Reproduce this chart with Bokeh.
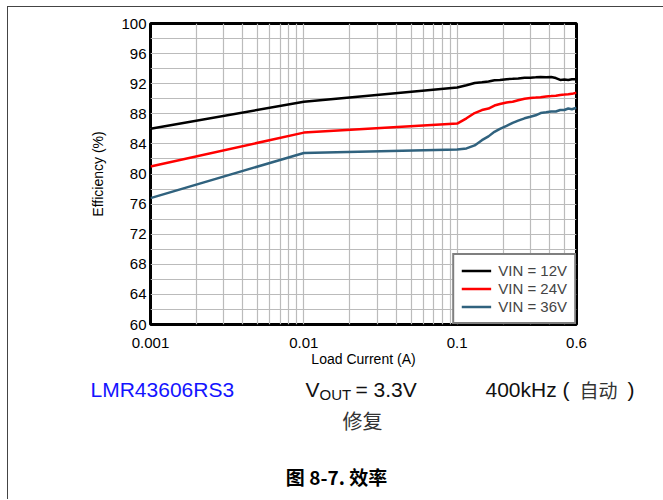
from bokeh.plotting import figure
from bokeh.layouts import column
from bokeh.models import FixedTicker, CustomJSTickFormatter, Range1d
from bokeh.core.properties import value
from bokeh.embed import file_html
from bokeh.resources import INLINE

# ---- data ----
load_current = [0.001, 0.01, 0.1, 0.115, 0.13, 0.145, 0.16, 0.175, 0.19, 0.21, 0.23, 0.25,
                0.275, 0.3, 0.325, 0.35, 0.38, 0.41, 0.44, 0.47, 0.5, 0.53, 0.56, 0.6]
eff_12v = [86.0, 89.6, 91.5, 91.8, 92.1, 92.2, 92.3, 92.45, 92.5, 92.6, 92.65, 92.7,
           92.8, 92.8, 92.85, 92.9, 92.85, 92.9, 92.75, 92.5, 92.55, 92.5, 92.6, 92.6]
eff_24v = [81.0, 85.5, 86.7, 87.4, 88.1, 88.5, 88.7, 89.1, 89.3, 89.5, 89.6, 89.8,
           90.0, 90.1, 90.15, 90.2, 90.3, 90.35, 90.4, 90.5, 90.55, 90.6, 90.65, 90.8]
eff_36v = [76.8, 82.8, 83.25, 83.4, 83.8, 84.5, 85.0, 85.6, 86.0, 86.4, 86.8, 87.1,
           87.4, 87.6, 87.8, 88.1, 88.2, 88.3, 88.3, 88.5, 88.5, 88.7, 88.6, 88.8]
series_labels = ["VIN = 12V", "VIN = 24V", "VIN = 36V"]
series_colors = ["#000000", "#ff0000", "#30627e"]

x_ticks = [0.001, 0.01, 0.1, 0.6]
x_minor_ticks = [0.002, 0.003, 0.004, 0.005, 0.006, 0.007, 0.008, 0.009,
                 0.02, 0.03, 0.04, 0.05, 0.06, 0.07, 0.08, 0.09,
                 0.2, 0.3, 0.4, 0.5]
y_ticks = [60, 64, 68, 72, 76, 80, 84, 88, 92, 96, 100]
y_minor_ticks = [62, 66, 70, 74, 78, 82, 86, 90, 94, 98]

x_title = "Load Current (A)"
y_title = "Efficiency (%)"
part_text = "LMR43606RS3"
vout_main = "V"
vout_sub = "OUT"
vout_value = "= 3.3V"
freq_text = "400kHz ("
freq_mode = "自动"
freq_close = ")"
mode_text = "修复"
caption_text = "图 8-7. 效率"

FONT = "Liberation Sans, Noto Sans CJK SC"
CJK = "Noto Sans CJK SC"

# ---------------- main chart ----------------
p = figure(width=655, height=365, x_axis_type="log",
           x_range=Range1d(0.001, 0.6), y_range=Range1d(60, 100),
           output_backend="svg", toolbar_location=None,
           min_border_left=142, min_border_right=87,
           min_border_top=16, min_border_bottom=48)
p.frame_align = False

p.outline_line_color = "black"
p.outline_line_width = 3

for ax in (p.xaxis[0], p.yaxis[0]):
    ax.axis_line_color = None
    ax.major_tick_line_color = None
    ax.minor_tick_line_color = None
    ax.major_tick_out = 0
    ax.major_tick_in = 0
    ax.minor_tick_out = 0
    ax.minor_tick_in = 0
    ax.major_label_text_font = FONT
    ax.major_label_text_font_size = "15px"
    ax.major_label_text_color = "black"
    ax.axis_label_text_font = FONT
    ax.axis_label_text_font_size = "14px"
    ax.axis_label_text_font_style = "normal"
    ax.axis_label_text_color = "black"

p.xaxis.ticker = FixedTicker(ticks=x_ticks, minor_ticks=x_minor_ticks)
p.xaxis.formatter = CustomJSTickFormatter(code="return tick.toString()")
p.xaxis.major_label_standoff = 13
p.xaxis.axis_label = x_title
p.xaxis.axis_label_standoff = 0
p.yaxis.ticker = FixedTicker(ticks=y_ticks, minor_ticks=y_minor_ticks)
p.yaxis.major_label_standoff = 4
p.yaxis.axis_label = y_title
p.yaxis.axis_label_standoff = 12

p.xgrid.ticker = FixedTicker(ticks=x_ticks, minor_ticks=x_minor_ticks)
p.ygrid.ticker = FixedTicker(ticks=y_ticks, minor_ticks=y_minor_ticks)
for g in (p.xgrid[0], p.ygrid[0]):
    g.grid_line_color = "#bbbbbb"
    g.grid_line_width = 1.2
    g.minor_grid_line_color = "#bbbbbb"
    g.minor_grid_line_width = 1.2

for ys, lab, col in zip([eff_12v, eff_24v, eff_36v], series_labels, series_colors):
    p.line(load_current, ys, line_color=col, line_width=2.5, legend_label=lab)

lg = p.legend[0]
lg.location = "bottom_right"
lg.margin = 0
lg.padding = 7
lg.spacing = 1
lg.glyph_width = 30
lg.glyph_height = 17
lg.label_height = 17
lg.label_standoff = 7
lg.label_text_font = FONT
lg.label_text_font_size = "15px"
lg.border_line_color = "black"
lg.border_line_width = 2
lg.background_fill_color = "white"
lg.background_fill_alpha = 1

# ---------------- notes panel under the chart (pixel space) ----------------
p2 = figure(width=655, height=127, x_range=Range1d(8, 663), y_range=Range1d(499, 372),
            output_backend="svg", toolbar_location=None,
            x_axis_location=None, y_axis_location=None, min_border=0)
p2.frame_align = False
p2.outline_line_color = None
p2.xgrid.visible = False
p2.ygrid.visible = False

p2.text(x=[90], y=[389], text=[part_text], text_font=value(FONT), text_font_size="21px",
        text_color="#1414ff", text_baseline="alphabetic", text_align="left")
p2.text(x=[305, 355, 485, 627], y=[389, 389, 389, 389],
        text=[vout_main, vout_value, freq_text, freq_close],
        text_font=value(FONT), text_font_size="21px", text_color="#111111",
        text_baseline="alphabetic", text_align="left")
p2.text(x=[579], y=[389], text=[freq_mode], text_font=value(CJK), text_font_size="19px",
        text_color="#333333", text_baseline="alphabetic", text_align="left")
p2.text(x=[319], y=[394], text=[vout_sub], text_font=value(FONT), text_font_size="15px",
        text_color="#111111", text_baseline="alphabetic", text_align="left")
p2.text(x=[362], y=[420], text=[mode_text], text_font=value(CJK), text_font_size="20px",
        text_color="#333333", text_baseline="middle", text_align="center")
p2.text(x=[336], y=[476], text=[caption_text], text_font=value(CJK), text_font_size="19px",
        text_font_style="bold", text_color="black", text_baseline="middle", text_align="center")

layout = column(p, p2, spacing=0,
                styles={"margin-left": "7px", "margin-top": "6px",
                        "border-top": "1px solid #444444", "border-left": "1px solid #444444"})

open("out.html", "w").write(file_html(layout, INLINE))
